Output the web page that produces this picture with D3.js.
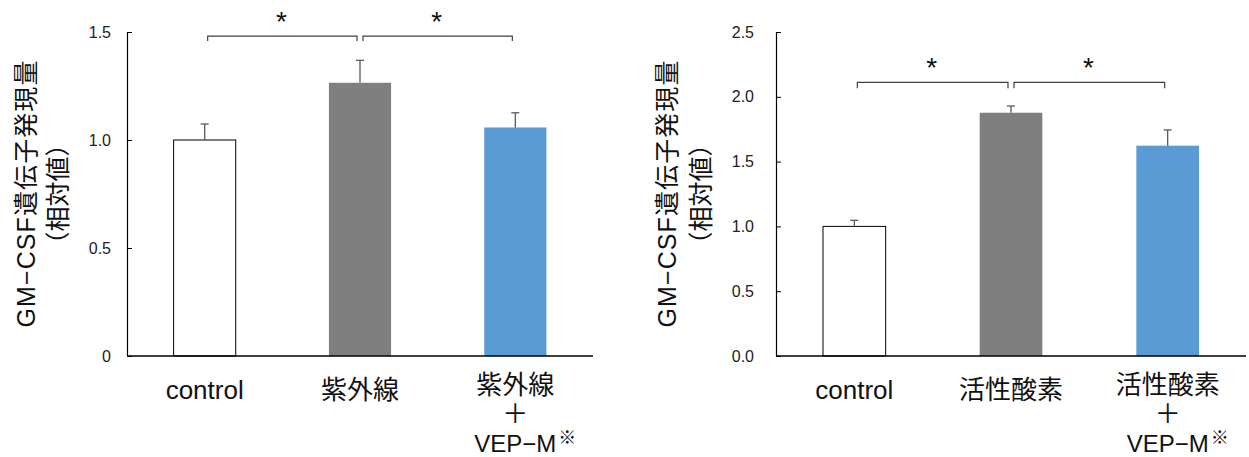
<!DOCTYPE html>
<html>
<head>
<meta charset="utf-8">
<script src="https://cdn.jsdelivr.net/npm/d3@7"></script>
<style>
  body { margin: 0; background: #fff; }
  svg { display: block; font-family: "Liberation Sans", Arial, "Noto Sans CJK JP", sans-serif; }
  .axis .domain, .axis line { stroke: #000; }
  .axis text { font-size: 16px; fill: #222; }
</style>
</head>
<body>
<svg id="chart" width="1249" height="457"></svg>
<script>
document.addEventListener("DOMContentLoaded", () => {
  "use strict";

  // left panel: UV
  const uvLabels   = [["control"], ["紫外線"], ["紫外線", "＋", "VEP−M"]];
  const uvMeans    = [1.00, 1.265, 1.058];
  const uvErrors   = [0.074, 0.104, 0.068];
  const uvTicks    = [0, 0.5, 1.0, 1.5];
  const uvTickText = ["0", "0.5", "1.0", "1.5"];
  const uvPairs    = [[0, 1], [1, 2]];
  const uvSigLevel = 1.481;

  // right panel: reactive oxygen
  const rosLabels   = [["control"], ["活性酸素"], ["活性酸素", "＋", "VEP−M"]];
  const rosMeans    = [1.00, 1.877, 1.623];
  const rosErrors   = [0.047, 0.052, 0.121];
  const rosTicks    = [0, 0.5, 1.0, 1.5, 2.0, 2.5];
  const rosTickText = ["0.0", "0.5", "1.0", "1.5", "2.0", "2.5"];
  const rosPairs    = [[0, 1], [1, 2]];
  const rosSigLevel = 2.112;

  const titleLines = ["GM−CSF遺伝子発現量", "（相対値）"];
  const fills = ["#ffffff", "#7f7f7f", "#5b9bd5"];

  const svg = d3.select("#chart");
  const TOP = 32, BOTTOM = 356;

  drawPanel({ x0: 127, x1: 593, tickPad: 16, titleX: [26, 58], drop: 5 },
            uvLabels, uvMeans, uvErrors, uvTicks, uvTickText, uvPairs, uvSigLevel);
  drawPanel({ x0: 776, x1: 1246, tickPad: 22, titleX: [667, 701], drop: 6 },
            rosLabels, rosMeans, rosErrors, rosTicks, rosTickText, rosPairs, rosSigLevel);

  function drawPanel(P, labels, means, errs, ticks, tickText, pairs, sigLevel) {
    const idx = d3.range(means.length);
    const g = svg.append("g");

    const x = d3.scaleBand().domain(idx).range([P.x0, P.x1])
      .paddingInner(0.6).paddingOuter(0.3);
    const y = d3.scaleLinear().domain([0, d3.max(ticks)]).range([BOTTOM, TOP]);

    // y axis, ticks pointing inward
    g.append("g").attr("class", "axis")
      .attr("transform", `translate(${P.x0},0)`)
      .call(d3.axisLeft(y).tickValues(ticks)
        .tickFormat((d, i) => tickText[i])
        .tickSizeInner(-5).tickSizeOuter(0).tickPadding(P.tickPad))
      .call(a => a.select(".domain").attr("stroke-width", 1.2));

    // bars
    g.selectAll("rect.bar").data(idx).join("rect")
      .attr("class", "bar")
      .attr("x", i => x(i))
      .attr("y", i => y(means[i]))
      .attr("width", x.bandwidth())
      .attr("height", i => y(0) - y(means[i]))
      .attr("fill", i => fills[i])
      .attr("stroke", i => i === 0 ? "#000" : "none")
      .attr("stroke-width", 1);

    // x axis line
    g.append("line")
      .attr("x1", P.x0).attr("x2", P.x1)
      .attr("y1", y(0)).attr("y2", y(0))
      .attr("stroke", "#000").attr("stroke-width", 1.6);

    // upper error bars
    const cx = i => x(i) + x.bandwidth() / 2;
    const eb = g.selectAll("g.err").data(idx).join("g").attr("class", "err")
      .attr("stroke", "#595959").attr("stroke-width", 1.3);
    eb.append("line")
      .attr("x1", cx).attr("x2", cx)
      .attr("y1", i => y(means[i])).attr("y2", i => y(means[i] + errs[i]));
    eb.append("line")
      .attr("x1", i => cx(i) - 4).attr("x2", i => cx(i) + 4)
      .attr("y1", i => y(means[i] + errs[i])).attr("y2", i => y(means[i] + errs[i]));

    // significance brackets
    const ys = y(sigLevel);
    g.selectAll("path.sig").data(pairs).join("path")
      .attr("class", "sig")
      .attr("fill", "none").attr("stroke", "#404040").attr("stroke-width", 1.2)
      .attr("d", ([a, b]) =>
        `M${cx(a) + 3},${ys + P.drop}V${ys}H${cx(b) - 3}V${ys + P.drop}`);
    g.selectAll("text.star").data(pairs).join("text")
      .attr("class", "star")
      .attr("x", ([a, b]) => (cx(a) + cx(b)) / 2 - 1)
      .attr("y", ys - 5)
      .attr("text-anchor", "middle")
      .style("font-size", "28px")
      .attr("fill", "#111")
      .text("*");

    // category labels
    idx.forEach(i => {
      const lines = labels[i];
      const base = lines.length > 1 ? 394 : 399;
      lines.forEach((t, k) => {
        const txt = g.append("text")
          .attr("x", cx(i))
          .attr("y", base + k * 29)
          .attr("text-anchor", "middle")
          .style("font-size", t === "VEP−M" ? "24px" : "26px")
          .attr("fill", "#111")
          .text(t);
        if (t === "VEP−M") {
          const bb = txt.node().getBBox();
          g.append("text")
            .attr("x", bb.x + bb.width + 2)
            .attr("y", base + k * 29 - 8)
            .style("font-size", "18px")
            .attr("fill", "#111")
            .text("※");
        }
      });
    });

    // y title, two rotated lines
    titleLines.forEach((t, k) => {
      const tt = g.append("text")
        .attr("transform", `translate(${P.titleX[k]},${(TOP + BOTTOM) / 2}) rotate(-90)`)
        .attr("text-anchor", "middle")
        .attr("dominant-baseline", "central")
        .style("font-size", "25px")
        .attr("fill", "#111")
        .text(t);
      if (k === 0) tt.attr("textLength", 267).attr("lengthAdjust", "spacing");
    });
  }
});
</script>
</body>
</html>
